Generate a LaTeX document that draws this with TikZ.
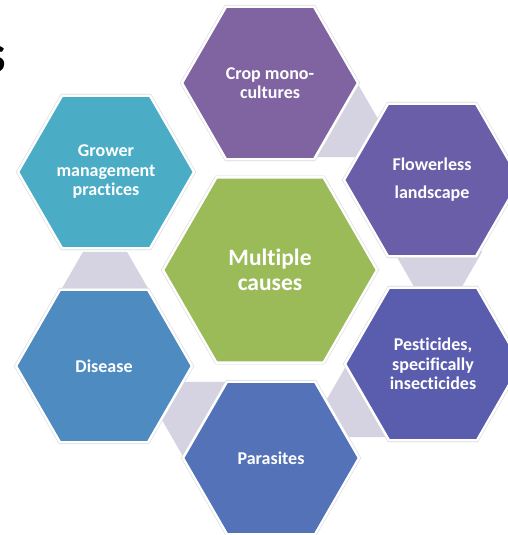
\documentclass[tikz,border=0pt]{standalone}
\usepackage{fontspec}
\setmainfont{Carlito}[Ligatures=CommonOff]
\usetikzlibrary{shapes.geometric}

\definecolor{cgreen}{HTML}{9BBB59}
\definecolor{ccrop}{HTML}{8064A2}
\definecolor{cflower}{HTML}{6B5EA8}
\definecolor{cpest}{HTML}{5A5DAD}
\definecolor{cpara}{HTML}{5472B8}
\definecolor{cdis}{HTML}{4E8BC1}
\definecolor{cgrow}{HTML}{4BACC6}
\definecolor{clink}{HTML}{D5D2E1}

\tikzset{
  hexbase/.style={regular polygon, regular polygon sides=6,
    inner sep=0pt, outer sep=0pt, text=white, align=center,
    preaction={draw=black!15, line width=3.6pt},
    draw=white, line width=2.4pt},
  hexouter/.style={hexbase, minimum size=176pt,
    font=\bfseries\fontsize{18}{19.5}\selectfont},
  hexcentre/.style={hexbase, minimum size=214pt,
    font=\bfseries\fontsize{23.5}{25}\selectfont},
  linkhex/.style={regular polygon, regular polygon sides=6,
    inner sep=0pt, outer sep=0pt, minimum size=88pt, fill=clink},
  titletext/.style={inner sep=0pt, text=black,
    font=\bfseries\fontsize{54}{60}\selectfont},
}

\begin{document}
\begin{tikzpicture}[x=1pt,y=-1pt]
  \useasboundingbox (0,0) rectangle (508,535);
  \fill[white] (0,0) rectangle (508,535);
  \clip (0,0) rectangle (508,535);

  % tail of the slide title
  \node[titletext, anchor=base east] (title) at (6,72) {s};

  % small linking hexagons, behind the ring
  \node[linkhex] (l12) at (334,119) {};
  \node[linkhex] (l23) at (438,252) {};
  \node[linkhex] (l34) at (371,399) {};
  \node[linkhex] (l45) at (206,420) {};
  \node[linkhex] (l56) at (105,290) {};

  % ring of causes
  \node[hexouter, fill=ccrop]   (crop)   at (270,83)  {Crop mono-\\cultures};
  \node[hexouter, fill=cflower] (flower) at (432,180) {Flowerless\\[8.5pt]landscape};
  \node[hexouter, fill=cpest]   (pest)   at (433,364) {Pesticides,\\specifically\\insecticides};
  \node[hexouter, fill=cpara]   (para)   at (271,458) {Parasites};
  \node[hexouter, fill=cdis]    (dis)    at (104,366) {Disease};
  \node[hexouter, fill=cgrow]   (grow)   at (106,172) {Grower\\management\\practices};

  % centre
  \node[hexcentre, fill=cgreen] (centre) at (270,270) {Multiple\\causes};
\end{tikzpicture}
\end{document}
